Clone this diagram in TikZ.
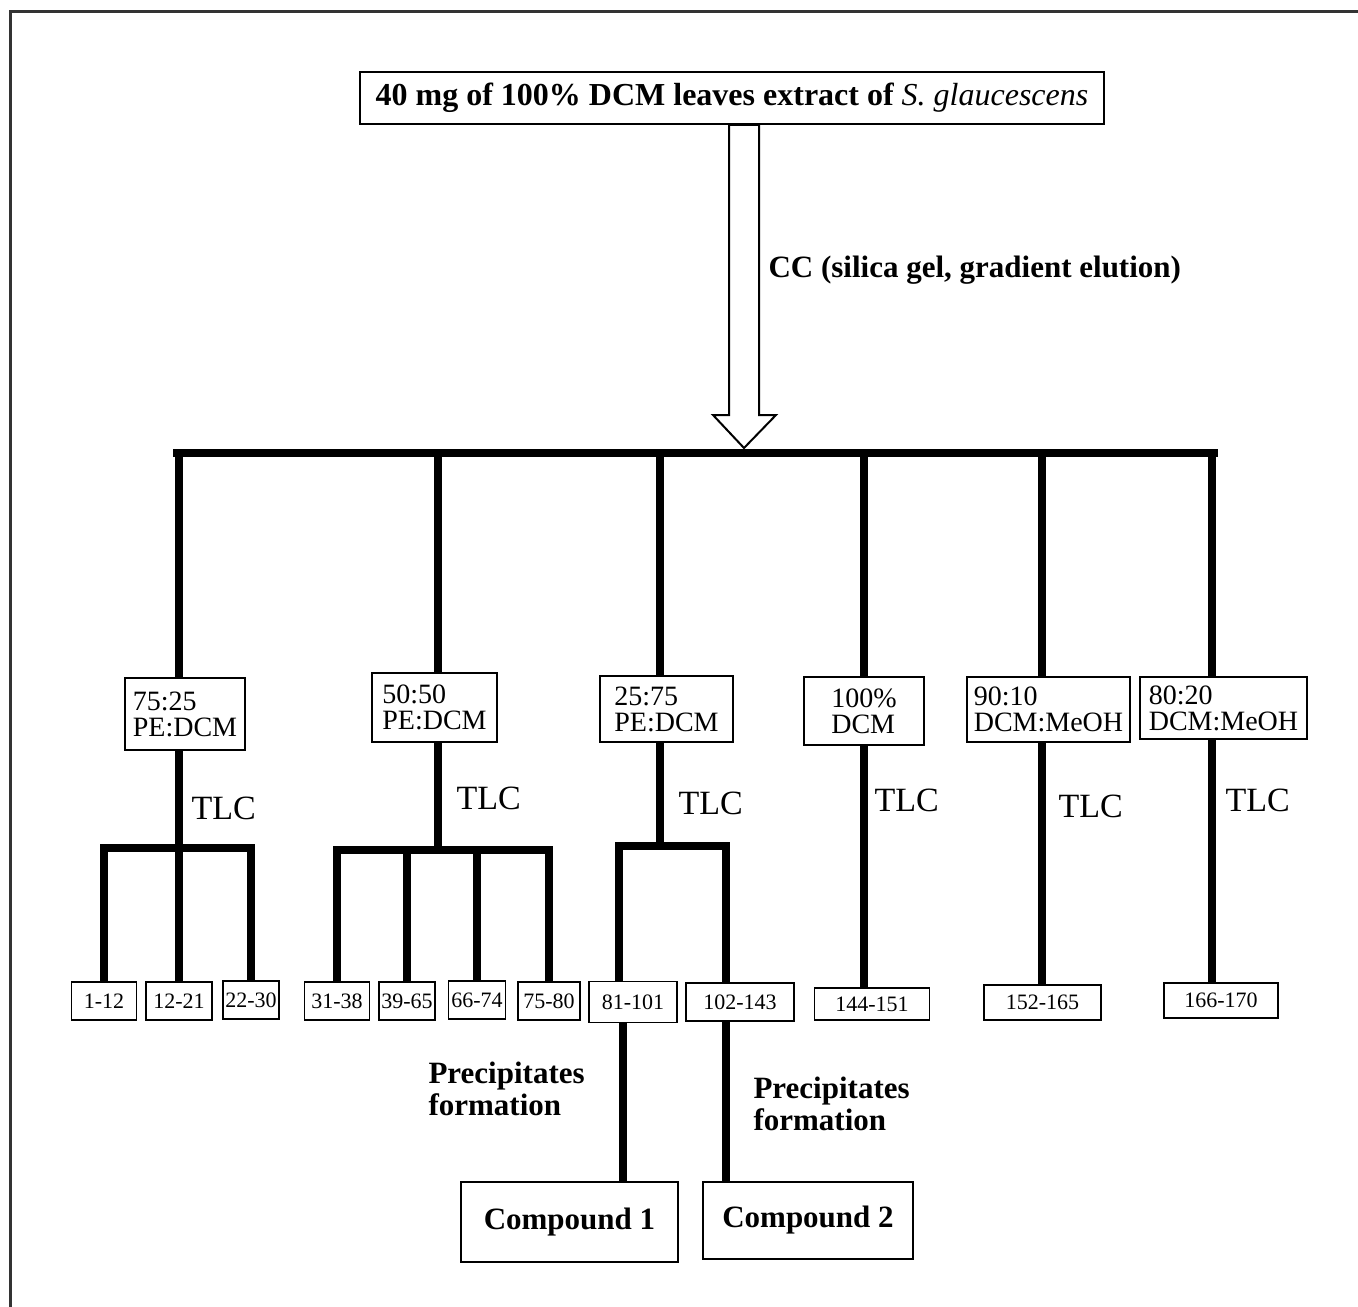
\documentclass[tikz,border=0pt]{standalone}
\usepackage{fontspec}
\setmainfont{Liberation Serif}
\usetikzlibrary{calc, positioning}

\begin{document}
\begin{tikzpicture}[x=1pt, y=-1pt,
    bar/.style={line width=8.5pt, line join=miter},
    plainbox/.style={draw, line width=1.8pt, inner sep=0pt},
    solvent/.style={plainbox, align=left, font=\fontsize{28}{26}\selectfont},
    fraction/.style={plainbox, font=\fontsize{22}{24}\selectfont},
    compound/.style={plainbox, font=\fontsize{31}{34}\selectfont\bfseries},
    note/.style={anchor=west, align=left, font=\fontsize{31}{32}\selectfont\bfseries},
    tlc/.style={anchor=west, font=\fontsize{34}{36}\selectfont}]
    % Page size in pixels
    \useasboundingbox (0,0) rectangle (1358,1307);

    % Frame (only top and left edges are visible)
    \draw[black!80, line width=3pt] (10,1307) -- (10,11) -- (1358,11);

    % Starting material
    \node[plainbox, minimum width=744pt, minimum height=52pt,
          font=\fontsize{32}{34}\selectfont\bfseries] (title) at (732,98)
        {40 mg of 100\% DCM leaves extract of {\mdseries\itshape S. glaucescens}};

    % Hollow arrow for the column
    \coordinate (tip) at (744,448);
    \draw[line width=2pt, fill=white]
        ($(tip |- title.south)+(-15,0)$) -- ($(tip)+(-15,-33)$) -- ($(tip)+(-31,-33)$)
        -- (tip) -- ($(tip)+(32,-33)$) -- ($(tip)+(15,-33)$)
        -- ($(tip |- title.south)+(15,0)$) -- cycle;
    \node[note, font=\fontsize{31}{34}\selectfont\bfseries] (cc) at (765,270)
        {CC (silica gel, gradient elution)};

    % Main bus
    \coordinate (busL) at (173,453);
    \coordinate (busR) at (1218,453);
    \draw[bar] (busL) -- (busR);

    % Solvent fractions
    \node[solvent, minimum width=120pt, minimum height=72pt] (s1) at (185,714)   {75:25\\PE:DCM};
    \node[solvent, minimum width=125pt, minimum height=69pt] (s2) at (434.5,707.5) {50:50\\PE:DCM};
    \node[solvent, minimum width=133pt, minimum height=66pt] (s3) at (666.5,709) {25:75\\PE:DCM};
    \node[solvent, minimum width=120pt, minimum height=68pt] (s4) at (864,711)   {100\%\\DCM};
    \node[solvent, minimum width=163pt, minimum height=65pt] (s5) at (1048.5,709.5) {90:10\\DCM:MeOH};
    \node[solvent, minimum width=167pt, minimum height=62pt] (s6) at (1223.5,708) {80:20\\DCM:MeOH};

    % Taps on the bus
    \coordinate (t1) at (179,453);
    \coordinate (t2) at (438,453);
    \coordinate (t3) at (660,453);
    \coordinate (t4) at (864,453);
    \coordinate (t5) at (1042,453);
    \coordinate (t6) at (1212,453);
    \foreach \i in {1,...,6} {
        \draw[bar] (t\i) -- (t\i |- s\i.north);
    }

    % TLC labels
    \node[tlc] (tlc1) at (188,808)  {TLC};
    \node[tlc] (tlc2) at (453,798)  {TLC};
    \node[tlc] (tlc3) at (675,803)  {TLC};
    \node[tlc] (tlc4) at (871,800)  {TLC};
    \node[tlc] (tlc5) at (1055,806) {TLC};
    \node[tlc] (tlc6) at (1222,800) {TLC};

    % Pooled fractions
    \node[fraction, minimum width=65pt, minimum height=38pt] (r1)  at (104,1001)  {1-12};
    \node[fraction, minimum width=66pt, minimum height=38pt] (r2)  at (179,1001)  {12-21};
    \node[fraction, minimum width=56pt, minimum height=38pt] (r3)  at (251,1000)  {22-30};
    \node[fraction, minimum width=65pt, minimum height=38pt] (r4)  at (337,1001)  {31-38};
    \node[fraction, minimum width=56pt, minimum height=38pt] (r5)  at (407,1001)  {39-65};
    \node[fraction, minimum width=57pt, minimum height=38pt] (r6)  at (477,1000)  {66-74};
    \node[fraction, minimum width=62pt, minimum height=38pt] (r7)  at (549,1001)  {75-80};
    \node[fraction, minimum width=88pt, minimum height=41pt] (r8)  at (633,1002)  {81-101};
    \node[fraction, minimum width=108pt, minimum height=38pt] (r9) at (740,1002)  {102-143};
    \node[fraction, minimum width=115pt, minimum height=32pt] (r10) at (872,1004) {144-151};
    \node[fraction, minimum width=117pt, minimum height=35pt] (r11) at (1042.5,1002.5) {152-165};
    \node[fraction, minimum width=114pt, minimum height=35pt] (r12) at (1221,1000.5) {166-170};

    % Branching below the solvent boxes
    \coordinate (j1) at (179,848);
    \coordinate (j2) at (438,850);
    \coordinate (j3) at (660,846);
    \foreach \i in {1,2,3} {
        \draw[bar] (t\i |- s\i.south) -- (j\i);
    }
    \draw[bar] (r1.north) |- (j1) -| (r3.north);
    \draw[bar] (r2.north |- j1) -- (r2.north);
    \draw[bar] (r4.north) |- (j2) -| (r7.north);
    \draw[bar] (r5.north |- j2) -- (r5.north);
    \draw[bar] (r6.north |- j2) -- (r6.north);
    \draw[bar] ([xshift=-14pt]r8.north) |- (j3) -| ([xshift=-14pt]r9.north);
    \draw[bar] (t4 |- s4.south) -- (t4 |- r10.north);
    \draw[bar] (t5 |- s5.south) -- (t5 |- r11.north);
    \draw[bar] (t6 |- s6.south) -- (t6 |- r12.north);

    % Isolated compounds
    \node[compound, minimum width=217pt, minimum height=80pt] (c1) at (569.5,1222) {Compound 1};
    \node[compound, minimum width=210pt, minimum height=77pt] (c2) at (808,1220.5) {Compound 2};
    \draw[bar] ([xshift=-10pt]r8.south) coordinate (q1) -- (q1 |- c1.north);
    \draw[bar] ([xshift=-14pt]r9.south) coordinate (q2) -- (q2 |- c2.north);

    \node[note] (p1) at (425,1089) {Precipitates\\formation};
    \node[note] (p2) at (750,1104) {Precipitates\\formation};

\end{tikzpicture}
\end{document}
